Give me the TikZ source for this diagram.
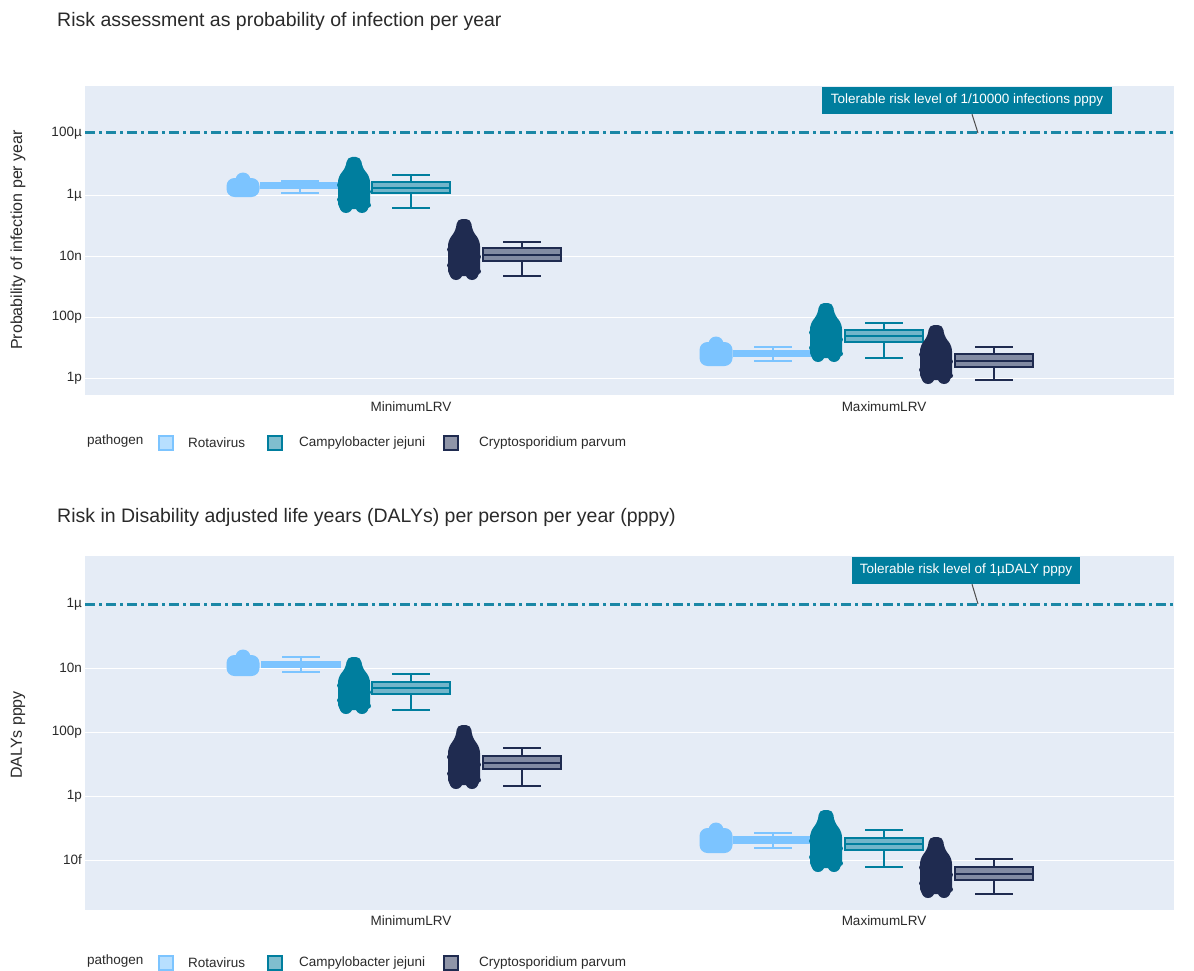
\documentclass[tikz,border=0pt]{standalone}
\usepackage{fontspec}
\setmainfont{Liberation Sans}
\definecolor{plotbg}{HTML}{E5ECF6}
\definecolor{rota}{HTML}{7CC4FF}
\definecolor{campy}{HTML}{007E9E}
\definecolor{crypto}{HTML}{1F2B50}
\definecolor{txt}{HTML}{2A2A2A}
\definecolor{tol}{HTML}{1A87A6}

% violin drawn as a bottle-like blob: centre x, top y, bottom y, colour
\newcommand\drawbottle[4]{%
  \fill[#4, rounded corners=5pt]
    ({#1-7},{#2}) -- ({#1+7},{#2}) -- ({#1+8},{#2+0.18*(#3-#2)})
    -- ({#1+16},{#2+0.36*(#3-#2)}) -- ({#1+16},{#3-4})
    -- ({#1-16},{#3-4}) -- ({#1-16},{#2+0.36*(#3-#2)})
    -- ({#1-8},{#2+0.18*(#3-#2)}) -- cycle;
  \fill[#4] ({#1-8},{#3-6.5}) circle (6.5);
  \fill[#4] ({#1+8},{#3-6.5}) circle (6.5);
  \fill[#4] ({#1-14.5},{#2+0.5*(#3-#2)}) circle (2.5);
  \fill[#4] ({#1+14.5},{#2+0.62*(#3-#2)}) circle (2.5);
  \fill[#4] ({#1-14.5},{#2+0.76*(#3-#2)}) circle (2.5);
  \fill[#4] ({#1+14.5},{#2+0.86*(#3-#2)}) circle (2.5);
}
% short rounded violin
\newcommand\drawcloud[4]{%
  \fill[#4, rounded corners=8pt] ({#1-16.5},{#2+5}) rectangle ({#1+16.5},{#3});
  \fill[#4] (#1,{#2+7}) circle (7.5);
}
% box with whiskers: centre x, box top, box bottom, median, upper cap, lower cap, colour, box fill
\newcommand\drawboxplot[8]{%
  \draw[#7, line width=2pt] (#1,#5) -- (#1,#2) (#1,#3) -- (#1,#6);
  \draw[#7, line width=2pt] ({#1-19},#5) -- ({#1+19},#5) ({#1-19},#6) -- ({#1+19},#6);
  \filldraw[draw=#7, fill=#8, line width=2pt] ({#1-39},#2) rectangle ({#1+39},#3);
  \draw[#7, line width=2pt] ({#1-39},#4) -- ({#1+39},#4);
}

\tikzset{
  title/.style={anchor=west, font=\fontsize{19.5}{22}\selectfont, text=txt, inner sep=0pt},
  ticklab/.style={anchor=east, font=\fontsize{13.5}{15}\selectfont, text=txt, inner sep=0pt},
  axtitle/.style={rotate=90, font=\fontsize{16}{18}\selectfont, text=txt, inner sep=0pt},
  catlab/.style={font=\fontsize{13.5}{15}\selectfont, text=txt, inner sep=0pt},
  legtext/.style={anchor=west, font=\fontsize{13.5}{15}\selectfont, text=txt, inner sep=0pt},
  legbox/.style={minimum size=14pt, inner sep=0pt, line width=2pt},
  annot/.style={fill=campy, text=white, font=\fontsize{13.5}{15}\selectfont,
    inner sep=0pt, minimum height=27pt},
  annotline/.style={draw=black!70, line width=1pt},
  tolline/.style={draw=tol, line width=3pt, dash pattern=on 10pt off 4pt on 3pt off 4pt},
  grid/.style={draw=white, line width=1pt}
}

\begin{document}
\begin{tikzpicture}[x=1pt,y=-1pt]
\fill[white] (0,0) rectangle (1194,971);
\useasboundingbox (0,0) rectangle (1194,971);

%% ---------------- upper panel ----------------
\node[title] (t1) at (57,21) {Risk assessment as probability of infection per year};
\fill[plotbg] (85,86) rectangle (1174,395);
\foreach \yy in {195,256,317,378} \draw[grid] (85,\yy) -- (1174,\yy);
\node[ticklab] (a100u) at (82,133) {100µ};
\node[ticklab] (a1u) at (82,195) {1µ};
\node[ticklab] (a10n) at (82,256) {10n};
\node[ticklab] (a100p) at (82,317) {100p};
\node[ticklab] (a1p) at (82,378) {1p};
\node[axtitle] (ay) at (18,240) {Probability of infection per year};
\node[catlab] (amin) at (411,407) {MinimumLRV};
\node[catlab] (amax) at (884,407) {MaximumLRV};

% MinimumLRV
\drawcloud{243}{173}{197}{rota}
\drawboxplot{300}{183}{188}{185.5}{181}{193}{rota}{rota}
\drawbottle{354}{157}{213}{campy}
\drawboxplot{411}{182}{193}{187.5}{175}{208}{campy}{campy!50!plotbg}
\drawbottle{464}{219}{280}{crypto}
\drawboxplot{522}{248}{261}{254.5}{242}{276}{crypto}{crypto!50!plotbg}
% MaximumLRV
\drawcloud{716}{337}{366}{rota}
\drawboxplot{773}{351}{356}{353.5}{347}{361}{rota}{rota}
\drawbottle{826}{303}{362}{campy}
\drawboxplot{884}{330}{342}{336}{323}{358}{campy}{campy!50!plotbg}
\drawbottle{936}{325}{384}{crypto}
\drawboxplot{994}{354}{367}{360.5}{347}{380}{crypto}{crypto!50!plotbg}

\draw[tolline] (85,133) -- (1174,133);
\coordinate (tol1end) at (978,133);
\node[annot, minimum width=290pt] (tol1) at (967,100.5) {Tolerable risk level of 1/10000 infections pppy};
\draw[annotline] ([xshift=5pt]tol1.south) -- (tol1end);

% legend
\node[legtext] (l1) at (87,441) {pathogen};
\node[legbox, draw=rota, fill=rota!55!white] (l1a) at (166,443) {};
\node[legtext] (l1at) at (188,443) {Rotavirus};
\node[legbox, draw=campy, fill=campy!50!white] (l1b) at (275,443) {};
\node[legtext] (l1bt) at (299,443) {Campylobacter jejuni};
\node[legbox, draw=crypto, fill=crypto!50!white] (l1c) at (451,443) {};
\node[legtext] (l1ct) at (479,443) {Cryptosporidium parvum};

%% ---------------- lower panel ----------------
\node[title] (t2) at (57,517) {Risk in Disability adjusted life years (DALYs) per person per year (pppy)};
\fill[plotbg] (85,556) rectangle (1174,910);
\foreach \yy in {668,732,796,860} \draw[grid] (85,\yy) -- (1174,\yy);
\node[ticklab] (b1u) at (82,604) {1µ};
\node[ticklab] (b10n) at (82,668) {10n};
\node[ticklab] (b100p) at (82,732) {100p};
\node[ticklab] (b1p) at (82,796) {1p};
\node[ticklab] (b10f) at (82,860) {10f};
\node[axtitle] (by) at (18,735) {DALYs pppy};
\node[catlab] (bmin) at (411,921) {MinimumLRV};
\node[catlab] (bmax) at (884,921) {MaximumLRV};

% MinimumLRV
\drawcloud{243}{650}{676}{rota}
\drawboxplot{301}{662}{667}{664.5}{657}{672}{rota}{rota}
\drawbottle{354}{657}{714}{campy}
\drawboxplot{411}{682}{694}{688}{674}{710}{campy}{campy!50!plotbg}
\drawbottle{464}{725}{789}{crypto}
\drawboxplot{522}{756}{769}{762.5}{748}{786}{crypto}{crypto!50!plotbg}
% MaximumLRV
\drawcloud{716}{823}{853}{rota}
\drawboxplot{773}{837}{843}{840}{833}{848}{rota}{rota}
\drawbottle{826}{810}{872}{campy}
\drawboxplot{884}{838}{850}{844}{830}{867}{campy}{campy!50!plotbg}
\drawbottle{936}{837}{898}{crypto}
\drawboxplot{994}{867}{880}{873.5}{859}{894}{crypto}{crypto!50!plotbg}

\draw[tolline] (85,604) -- (1174,604);
\coordinate (tol2end) at (978,604);
\node[annot, minimum width=228pt] (tol2) at (966,570.5) {Tolerable risk level of 1µDALY pppy};
\draw[annotline] ([xshift=6pt]tol2.south) -- (tol2end);

% legend
\node[legtext] (l2) at (87,961) {pathogen};
\node[legbox, draw=rota, fill=rota!55!white] (l2a) at (166,963) {};
\node[legtext] (l2at) at (188,963) {Rotavirus};
\node[legbox, draw=campy, fill=campy!50!white] (l2b) at (275,963) {};
\node[legtext] (l2bt) at (299,963) {Campylobacter jejuni};
\node[legbox, draw=crypto, fill=crypto!50!white] (l2c) at (451,963) {};
\node[legtext] (l2ct) at (479,963) {Cryptosporidium parvum};
\end{tikzpicture}
\end{document}
